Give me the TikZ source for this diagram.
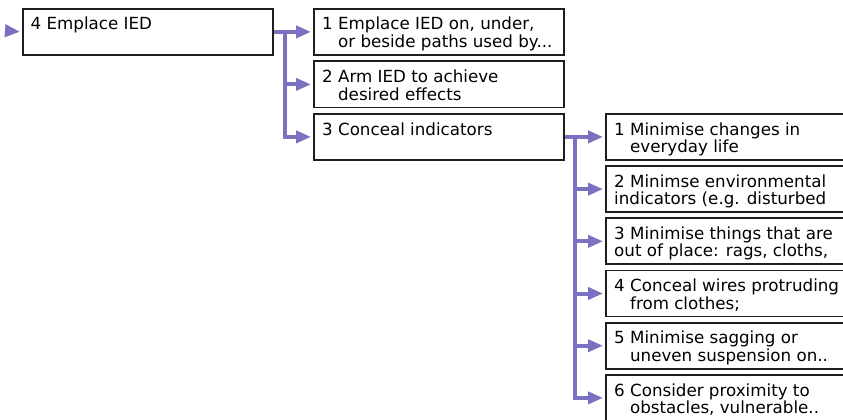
\documentclass[tikz,border=0pt]{standalone}
\usepackage{fontspec}
\setmainfont{DejaVu Sans}
\usetikzlibrary{arrows.meta}
\definecolor{connc}{RGB}{122,114,192}
\definecolor{boxc}{RGB}{30,30,30}
\newcommand\myindent{\hphantom{0\ }}
\newcommand\lblfont{\fontsize{16.7}{17.5}\selectfont}
\begin{document}
\begin{tikzpicture}[x=1pt,y=-1pt,
  box/.style={draw=boxc, line width=1.8pt, fill=white, rectangle, anchor=north west, inner sep=0pt, minimum height=46pt},
  lbl/.style={anchor=base west, inner sep=0pt, align=left, font=\lblfont},
  conn/.style={draw=connc, line width=4pt},
  arr/.style={conn, -{Triangle[length=15pt,width=12pt]}, shorten >=2pt}]
\useasboundingbox (0,0) rectangle (843,420);
\clip (0,0) rectangle (843,420);
\fill[white] (0,0) rectangle (843,420);

% level 1
\node[box, minimum width=250pt] (l1) at (22,8) {};
\node[lbl] (l1t) at ([shift={(8.5,22)}]l1.north west) {4 Emplace IED};

% level 2
\node[box, minimum width=250pt] (a1) at (313,8) {};
\node[box, minimum width=250pt] (a2) at (313,60.5) {};
\node[box, minimum width=250pt] (a3) at (313,113) {};
\node[lbl] (a1t) at ([shift={(9,39.5)}]a1.north west) {1 Emplace IED on, under,\\\myindent or beside paths used by...};
\node[lbl] (a2t) at ([shift={(9,39.5)}]a2.north west) {2 Arm IED to achieve\\\myindent desired effects};
\node[lbl] (a3t) at ([shift={(9,22)}]a3.north west) {3 Conceal indicators};

% level 3
\node[box, minimum width=300pt] (b1) at (605,113) {};
\node[box, minimum width=300pt] (b2) at (605,165.2) {};
\node[box, minimum width=300pt] (b3) at (605,217.4) {};
\node[box, minimum width=300pt] (b4) at (605,269.6) {};
\node[box, minimum width=300pt] (b5) at (605,321.8) {};
\node[box, minimum width=300pt] (b6) at (605,374) {};
\node[lbl] (b1t) at ([shift={(9,39.5)}]b1.north west) {1 Minimise changes in\\\myindent everyday life};
\node[lbl] (b2t) at ([shift={(9,39.5)}]b2.north west) {2 Minimse environmental\\indicators (e.g. disturbed};
\node[lbl] (b3t) at ([shift={(9,39.5)}]b3.north west) {3 Minimise things that are\\out of place: rags, cloths,};
\node[lbl] (b4t) at ([shift={(9,39.5)}]b4.north west) {4 Conceal wires protruding\\\myindent from clothes;};
\node[lbl] (b5t) at ([shift={(9,39.5)}]b5.north west) {5 Minimise sagging or\\\myindent uneven suspension on..};
\node[lbl] (b6t) at ([shift={(9,39.5)}]b6.north west) {6 Consider proximity to\\\myindent obstacles, vulnerable..};

% connectors
\coordinate (in) at (9,31);
\draw[arr] (in) -- (l1.west);
\foreach \c in {a1,a2,a3} \draw[arr] (l1.east) -- ++(11,0) |- (\c.west);
\foreach \c in {b1,b2,b3,b4,b5,b6} \draw[arr] (a3.east) -- ++(10,0) |- (\c.west);
\end{tikzpicture}
\end{document}
